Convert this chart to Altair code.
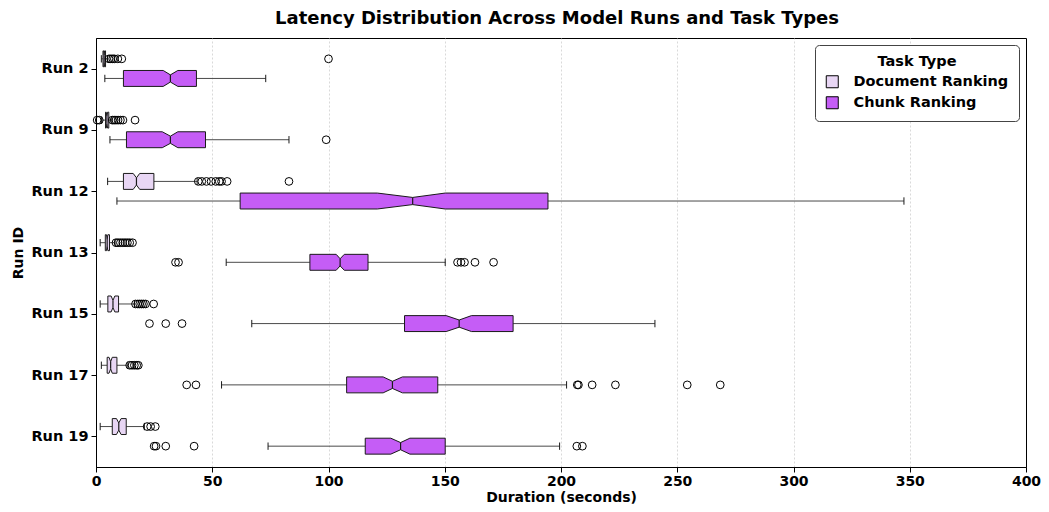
import altair as alt
import pandas as pd

# ---------------- data ----------------
runs = ["Run 2", "Run 9", "Run 12", "Run 13", "Run 15", "Run 17", "Run 19"]
task_types = ["Document Ranking", "Chunk Ranking"]

doc_whislo = [2.3, 2.4, 5.0, 1.8, 1.8, 2.3, 1.8]
doc_q1 = [3.0, 4.1, 11.8, 4.0, 5.1, 4.8, 7.0]
doc_med = [3.5, 4.7, 17.4, 4.8, 7.3, 6.3, 9.8]
doc_q3 = [4.1, 5.5, 24.9, 5.8, 9.7, 9.0, 13.0]
doc_whishi = [5.0, 6.8, 43.5, 8.2, 16.5, 13.7, 20.8]
doc_notch_lo = [3.3, 4.4, 16.0, 4.5, 6.5, 5.6, 8.8]
doc_notch_hi = [3.7, 5.0, 18.8, 5.1, 8.1, 7.0, 10.8]

chunk_whislo = [3.8, 6.0, 9.0, 56.0, 67.0, 54.0, 74.0]
chunk_q1 = [11.8, 13.1, 62.0, 92.0, 132.7, 107.8, 115.8]
chunk_med = [32.0, 32.0, 136.2, 105.0, 156.2, 127.5, 131.0]
chunk_q3 = [43.2, 47.1, 194.4, 117.0, 179.4, 147.0, 150.2]
chunk_whishi = [73.0, 83.0, 347.5, 150.2, 240.4, 202.4, 199.4]
chunk_notch_lo = [28.9, 28.5, 121.0, 103.3, 150.6, 123.5, 126.8]
chunk_notch_hi = [35.2, 35.2, 150.2, 106.8, 161.5, 131.8, 135.0]

doc_outliers = {
    "Run 2": [5.6, 6.4, 7.2, 7.9, 9.4, 11.1, 100.0],
    "Run 9": [0.5, 1.4, 7.0, 7.8, 8.6, 9.5, 10.5, 11.6, 16.8],
    "Run 12": [44.0, 45.5, 47.5, 49.5, 51.5, 53.0, 54.0, 56.4, 83.0],
    "Run 13": [8.6, 9.5, 10.5, 11.5, 12.5, 13.5, 14.5, 15.7],
    "Run 15": [17.0, 18.0, 18.8, 19.6, 20.4, 21.3, 24.8],
    "Run 17": [14.5, 15.5, 16.5, 17.5, 18.2],
    "Run 19": [22.0, 23.5, 25.5],
}
chunk_outliers = {
    "Run 2": [],
    "Run 9": [99.0],
    "Run 12": [],
    "Run 13": [34.2, 35.5, 155.5, 157.0, 158.5, 163.0, 171.0],
    "Run 15": [23.0, 30.0, 37.0],
    "Run 17": [39.0, 43.0, 207.0, 207.5, 213.4, 223.4, 254.3, 268.5],
    "Run 19": [25.0, 25.8, 30.0, 42.2, 206.8, 209.2],
}

# ---------------- styling ----------------
DOC_COLOR = "#E8D6F4"
CHUNK_COLOR = "#C55DF6"
FONT = "DejaVu Sans"

stats = {
    "Document Ranking": dict(wlo=doc_whislo, q1=doc_q1, med=doc_med, q3=doc_q3,
                             whi=doc_whishi, nlo=doc_notch_lo, nhi=doc_notch_hi,
                             out=doc_outliers, off=-0.16),
    "Chunk Ranking": dict(wlo=chunk_whislo, q1=chunk_q1, med=chunk_med, q3=chunk_q3,
                          whi=chunk_whishi, nlo=chunk_notch_lo, nhi=chunk_notch_hi,
                          out=chunk_outliers, off=0.16),
}
HW = 0.13       # half box height (in run units)
NOTCH = 0.45    # fraction of half-height kept at the median
CAP = 0.06

box_rows, whisk_rows, cap_rows, med_rows, out_rows = [], [], [], [], []
for task, s in stats.items():
    for i, run in enumerate(runs):
        c = i + 1 + s["off"]
        bid = f"{run}-{task}"
        xs = [s["q1"][i], s["nlo"][i], s["med"][i], s["nhi"][i], s["q3"][i]]
        hs = [HW, HW, HW * NOTCH, HW, HW]
        for xv, h in zip(xs, hs):
            box_rows.append(dict(x=xv, ylo=c - h, yhi=c + h, box=bid, task=task))
        whisk_rows.append(dict(x=s["wlo"][i], x2=s["q1"][i], y=c))
        whisk_rows.append(dict(x=s["q3"][i], x2=s["whi"][i], y=c))
        cap_rows.append(dict(x=s["wlo"][i], ylo=c - CAP, yhi=c + CAP))
        cap_rows.append(dict(x=s["whi"][i], ylo=c - CAP, yhi=c + CAP))
        med_rows.append(dict(x=s["med"][i], ylo=c - HW * NOTCH, yhi=c + HW * NOTCH))
        for v in s["out"][run]:
            out_rows.append(dict(x=v, y=c))

box_df = pd.DataFrame(box_rows)
whisk_df = pd.DataFrame(whisk_rows)
cap_df = pd.DataFrame(cap_rows)
med_df = pd.DataFrame(med_rows)
out_df = pd.DataFrame(out_rows)

x_scale = alt.Scale(domain=[0, 400], nice=False, zero=False)
y_scale = alt.Scale(domain=[0.5, 7.5], reverse=True, nice=False, zero=False)

label_expr = "[" + ",".join(f"'{r}'" for r in runs) + "][datum.value - 1]"
edge_test = "datum.value === 0 || datum.value === 400"

x_axis = alt.Axis(title="Duration (seconds)", values=list(range(0, 401, 50)),
                  grid=True, gridDash=[2, 2], gridColor="#cfcfcf", gridWidth=0.8,
                  gridOpacity={"condition": {"test": edge_test, "value": 0}, "value": 1},
                  labelFlush=False,
                  labelFontSize=14, labelFontWeight="bold", titleFontSize=14,
                  titleFontWeight="bold", tickSize=5, labelPadding=2, titlePadding=2,
                  domainColor="black", tickColor="black", labelColor="black",
                  titleColor="black")
y_axis = alt.Axis(title="Run ID", values=list(range(1, 8)), labelExpr=label_expr,
                  grid=False, labelFontSize=14.5, labelFontWeight="bold",
                  titleFontSize=14, titleFontWeight="bold", tickSize=5,
                  labelPadding=3, titlePadding=5, domainColor="black",
                  tickColor="black", labelColor="black", titleColor="black")


def X(field):
    return alt.X(field, scale=x_scale, axis=x_axis)


def Y(field, **kw):
    return alt.Y(field, scale=y_scale, axis=y_axis, **kw)


whiskers = alt.Chart(whisk_df).mark_rule(color="#4a4a4a", strokeWidth=1).encode(
    x=X("x:Q"), x2="x2:Q", y=Y("y:Q"),
)

boxes = alt.Chart(box_df).mark_area(orient="vertical", stroke="#1a1a1a",
                                    strokeWidth=1, opacity=1).encode(
    x=X("x:Q"),
    y=Y("ylo:Q", stack=None),
    y2="yhi:Q",
    detail="box:N",
    color=alt.Color("task:N", scale=alt.Scale(domain=task_types,
                                              range=[DOC_COLOR, CHUNK_COLOR]),
                    legend=alt.Legend(title="Task Type", orient="top-right",
                                      offset=7, titleAnchor="middle",
                                      titleFontSize=14.5, titleFontWeight="bold",
                                      labelFontSize=14.5, labelFontWeight="bold",
                                      symbolType="square", symbolSize=144,
                                      symbolStrokeColor="black",
                                      symbolStrokeWidth=1, fillColor="white",
                                      strokeColor="#444444", cornerRadius=4,
                                      padding=10, rowPadding=4, labelOffset=14,
                                      titlePadding=5, labelColor="black",
                                      titleColor="black")),
)

caps = alt.Chart(cap_df).mark_rule(color="#1a1a1a", strokeWidth=1).encode(
    x=X("x:Q"), y=Y("ylo:Q"), y2="yhi:Q",
)

medians = alt.Chart(med_df).mark_rule(color="#1a1a1a", strokeWidth=1.2).encode(
    x=X("x:Q"), y=Y("ylo:Q"), y2="yhi:Q",
)

outliers = alt.Chart(out_df).mark_point(shape="circle", filled=False, color="black",
                                        size=60, strokeWidth=1, opacity=1).encode(
    x=X("x:Q"), y=Y("y:Q"),
)

chart = alt.layer(whiskers, boxes, caps, medians, outliers).properties(
    width=1033,
    height=496,
    autosize=alt.AutoSizeParams(type="fit", contains="padding"),
    padding={"left": 3, "right": 0, "top": 2, "bottom": 0},
    title=alt.TitleParams("Latency Distribution Across Model Runs and Task Types",
                          fontSize=18, fontWeight="bold", font=FONT,
                          anchor="middle", color="black", offset=10, dx=-4),
).configure(font=FONT).configure_view(stroke="black", strokeWidth=1)

chart.save("out.html", embed_options={"renderer": "svg", "actions": False})
